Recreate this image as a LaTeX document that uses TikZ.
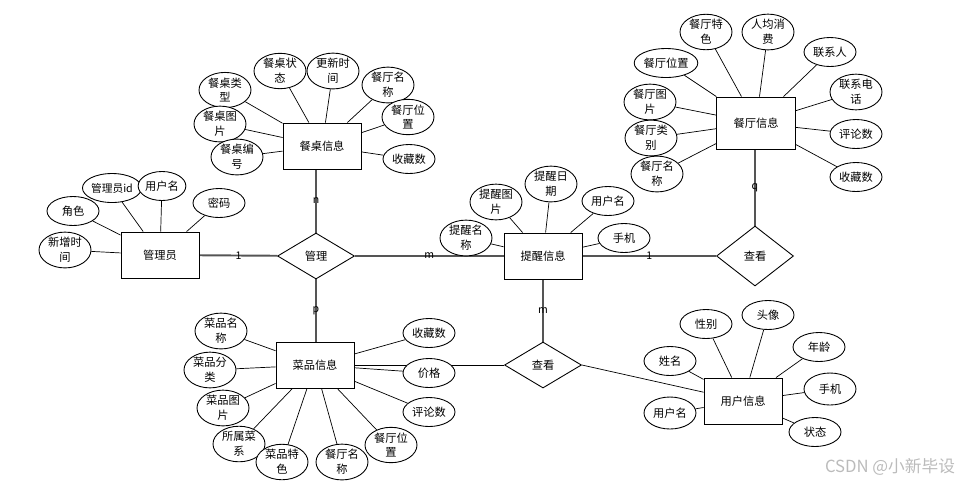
\documentclass[tikz,border=0pt]{standalone}
\usepackage{fontspec}
\setmainfont{Noto Sans CJK SC}
\usepackage{tikz}
\usetikzlibrary{shapes, positioning, backgrounds}
\definecolor{relline}{HTML}{555555}
\definecolor{wmgray}{HTML}{BBBBBB}

\begin{document}
\begin{tikzpicture}[x=0.02cm, y=-0.02cm, line width=0.5pt, font=\fontsize{6.4}{8.5}\selectfont,
    entity/.style={draw, rectangle, fill=white, minimum width=1.56cm, minimum height=0.92cm, inner sep=0pt},
    relation/.style={draw, diamond, fill=white, minimum width=1.54cm, minimum height=0.92cm, inner sep=0pt},
    attr/.style={draw, ellipse, fill=white, minimum width=1.04cm, minimum height=0.58cm, inner sep=0pt, align=center},
    link/.style={draw=relline, line width=1.1pt},
    card/.style={font=\fontsize{6}{7}\selectfont, inner sep=0pt}]
    \useasboundingbox (0,0) rectangle (967,485);

    % entities and relations
    \node (table) [entity] at (322,146) {餐桌信息};
    \node (admin) [entity] at (160,255) {管理员};
    \node (remind) [entity] at (543,256) {提醒信息};
    \node (rest) [entity, minimum width=1.58cm, minimum height=1.04cm] at (756,123) {餐厅信息};
    \node (dish) [entity] at (315,365) {菜品信息};
    \node (user) [entity] at (743,401) {用户信息};

    \node (manage) [relation] at (316,256) {管理};
    \node (viewR) [relation, minimum height=1.2cm] at (755,256) {查看};
    \node (viewU) [relation] at (543,365) {查看};

    % 餐桌信息
    \node (tType) [attr] at (225,90) {餐桌类\\型};
    \node (tState) [attr] at (280,71) {餐桌状\\态};
    \node (tTime) [attr] at (333,71) {更新时\\间};
    \node (tRest) [attr] at (388,85) {餐厅名\\称};
    \node (tPos) [attr] at (408,117) {餐厅位\\置};
    \node (tFav) [attr] at (409,159) {收藏数};
    \node (tPic) [attr] at (220,124) {餐桌图\\片};
    \node (tNo) [attr] at (237,157) {餐桌编\\号};

    % 管理员
    \node (aRole) [attr] at (73,211) {角色};
    \node (aId) [attr, font=\fontsize{6.1}{8}\selectfont] at (112,188) {管理员id};
    \node (aUser) [attr, minimum width=0.88cm] at (162,186) {用户名};
    \node (aPwd) [attr] at (219,203) {密码};
    \node (aTime) [attr] at (65,250) {新增时\\间};

    % 提醒信息
    \node (rName) [attr] at (466,238) {提醒名\\称};
    \node (rPic) [attr] at (496,202) {提醒图\\片};
    \node (rDate) [attr, minimum height=0.64cm] at (551,184) {提醒日\\期};
    \node (rUser) [attr] at (608,201) {用户名};
    \node (rPhone) [attr] at (624,238) {手机};

    % 餐厅信息
    \node (sFeat) [attr] at (706,32) {餐厅特\\色};
    \node (sCost) [attr, minimum height=0.64cm] at (768,32) {人均消\\费};
    \node (sCont) [attr] at (830,52) {联系人};
    \node (sTel) [attr] at (856,92) {联系电\\话};
    \node (sCom) [attr] at (856,134) {评论数};
    \node (sFav) [attr] at (856,177) {收藏数};
    \node (sPos) [attr] at (666,63) {餐厅位置};
    \node (sPic) [attr] at (650,102) {餐厅图\\片};
    \node (sType) [attr] at (651,138) {餐厅类\\别};
    \node (sName) [attr, minimum height=0.62cm] at (657,174) {餐厅名\\称};

    % 菜品信息
    \node (dName) [attr] at (221,331) {菜品名\\称};
    \node (dType) [attr] at (210,370) {菜品分\\类};
    \node (dPic) [attr] at (223,408) {菜品图\\片};
    \node (dCuis) [attr] at (239,444) {所属菜\\系};
    \node (dFeat) [attr] at (282,462) {菜品特\\色};
    \node (dRest) [attr] at (342,462) {餐厅名\\称};
    \node (dPos) [attr] at (391,445) {餐厅位\\置};
    \node (dCom) [attr] at (429,412) {评论数};
    \node (dPrice) [attr] at (429,373) {价格};
    \node (dFav) [attr] at (429,333) {收藏数};

    % 用户信息
    \node (uName) [attr] at (670,361) {姓名};
    \node (uSex) [attr] at (706,324) {性别};
    \node (uHead) [attr] at (768,315) {头像};
    \node (uAge) [attr] at (819,347) {年龄};
    \node (uPhone) [attr, minimum height=0.64cm] at (830,389) {手机};
    \node (uState) [attr] at (815,432) {状态};
    \node (uUser) [attr, minimum height=0.64cm] at (670,413) {用户名};

    \begin{scope}[on background layer]
    % relationships
    \draw[link] (admin) -- node[card] {1} (manage);
    \draw[link] (manage) -- node[card] {m} (remind);
    \draw[link] (manage.north) -- node[card] {n} (manage.north |- table.south);
    \draw[link] (manage.south) -- node[card] {p} (manage.south |- dish.north);
    \draw[link] (remind) -- node[card] {1} (viewR);
    \draw[link] (viewR.north) -- node[card] {q} (viewR.north |- rest.south);
    \draw[link] (remind.south) -- node[card] {m} (remind.south |- viewU.north);
    \draw (dish.east) -- (viewU.west);
    \draw (viewU.east) -- (user);

    % attributes
    \draw (table) -- (tType);  \draw (table) -- (tState); \draw (table) -- (tTime);
    \draw (table) -- (tRest);  \draw (table) -- (tPos);   \draw (table) -- (tFav);
    \draw (table) -- (tPic);   \draw (table) -- (tNo);

    \draw (admin) -- (aRole);  \draw (admin) -- (aId);    \draw (admin) -- (aUser);
    \draw (admin) -- (aPwd);   \draw (admin) -- (aTime);

    \draw (remind) -- (rName); \draw (remind) -- (rPic);  \draw (remind) -- (rDate);
    \draw (remind) -- (rUser); \draw (remind) -- (rPhone);

    \draw (rest) -- (sFeat);   \draw (rest) -- (sCost);   \draw (rest) -- (sCont);
    \draw (rest) -- (sTel);    \draw (rest) -- (sCom);    \draw (rest) -- (sFav);
    \draw (rest) -- (sPos);    \draw (rest) -- (sPic);    \draw (rest) -- (sType);
    \draw (rest) -- (sName);

    \draw (dish) -- (dName);   \draw (dish) -- (dType);   \draw (dish) -- (dPic);
    \draw (dish) -- (dCuis);   \draw (dish) -- (dFeat);   \draw (dish) -- (dRest);
    \draw (dish) -- (dPos);    \draw (dish) -- (dCom);    \draw (dish) -- (dPrice);
    \draw (dish) -- (dFav);

    \draw (user) -- (uName);   \draw (user) -- (uSex);    \draw (user) -- (uHead);
    \draw (user) -- (uAge);    \draw (user) -- (uPhone);  \draw (user) -- (uState);
    \draw (user) -- (uUser);
    \end{scope}

    \node (wm) [text=wmgray, font=\fontsize{9.5}{11}\selectfont] at (890,467) {CSDN @小新毕设};
\end{tikzpicture}
\end{document}
